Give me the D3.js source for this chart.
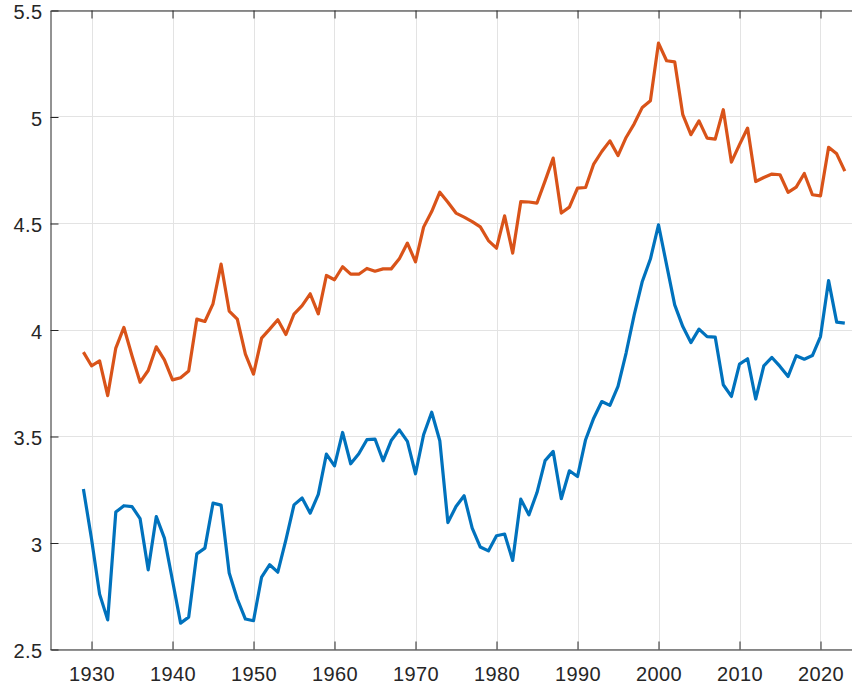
<!DOCTYPE html>
<html>
<head>
<meta charset="utf-8">
<script src="https://cdn.jsdelivr.net/npm/d3@7"></script>
<style>
  html, body { margin: 0; padding: 0; background: #fff; }
  svg { display: block; }
  .tick text { font-family: "Liberation Sans", Arial, Helvetica, sans-serif; font-size: 20px; fill: #262626; }
</style>
</head>
<body>
<svg id="chart" width="852" height="684"></svg>
<script>
// ---- data ----
const years = d3.range(1929, 2024);
const seriesTop = [
  3.896, 3.832, 3.855, 3.692, 3.915, 4.012, 3.879, 3.755, 3.810, 3.921,
  3.860, 3.766, 3.776, 3.807, 4.051, 4.040, 4.123, 4.309, 4.089, 4.051,
  3.887, 3.793, 3.962, 4.004, 4.048, 3.979, 4.075, 4.114, 4.170, 4.076,
  4.256, 4.236, 4.297, 4.262, 4.262, 4.289, 4.276, 4.287, 4.287, 4.334,
  4.408, 4.320, 4.483, 4.556, 4.647, 4.600, 4.549, 4.530, 4.509, 4.484,
  4.420, 4.384, 4.536, 4.361, 4.603, 4.601, 4.596, 4.700, 4.807, 4.549,
  4.577, 4.666, 4.669, 4.779, 4.838, 4.888, 4.819, 4.904, 4.968, 5.045,
  5.076, 5.347, 5.264, 5.259, 5.011, 4.917, 4.982, 4.901, 4.896, 5.034,
  4.788, 4.870, 4.948, 4.697, 4.716, 4.732, 4.729, 4.646, 4.671, 4.735,
  4.635, 4.630, 4.858, 4.827, 4.746
];
const seriesBottom = [
  3.254, 3.020, 2.760, 2.639, 3.145, 3.175, 3.171, 3.114, 2.874, 3.124,
  3.023, 2.824, 2.624, 2.652, 2.949, 2.976, 3.187, 3.178, 2.859, 2.737,
  2.643, 2.635, 2.840, 2.898, 2.863, 3.015, 3.179, 3.211, 3.140, 3.228,
  3.417, 3.362, 3.519, 3.372, 3.419, 3.485, 3.488, 3.386, 3.481, 3.531,
  3.477, 3.325, 3.508, 3.614, 3.480, 3.096, 3.171, 3.222, 3.070, 2.981,
  2.963, 3.034, 3.042, 2.918, 3.206, 3.132, 3.237, 3.387, 3.430, 3.208,
  3.339, 3.312, 3.485, 3.586, 3.664, 3.646, 3.735, 3.892, 4.071, 4.228,
  4.333, 4.494, 4.306, 4.118, 4.016, 3.941, 4.004, 3.969, 3.967, 3.743,
  3.688, 3.840, 3.865, 3.676, 3.832, 3.871, 3.829, 3.782, 3.879, 3.863,
  3.880, 3.969, 4.232, 4.037, 4.032
];
const xTicks = [1930, 1940, 1950, 1960, 1970, 1980, 1990, 2000, 2010, 2020];
const yTicks = [2.5, 3, 3.5, 4, 4.5, 5, 5.5];
const yTickLabels = ["2.5", "3", "3.5", "4", "4.5", "5", "5.5"];

// ---- layout ----
const svg = d3.select("#chart");
const pLeft = 51, pRight = 861, pTop = 10.5, pBottom = 649.5;

const x = d3.scaleLinear().domain([1925, 2025]).range([pLeft, pRight]);
const y = d3.scaleLinear().domain([2.5, 5.5]).range([pBottom, pTop]);

// grid
const grid = svg.append("g").attr("stroke", "#e3e3e3").attr("stroke-width", 1);
grid.selectAll(".vg").data(xTicks).join("line")
  .attr("x1", d => Math.round(x(d)) + 0.5).attr("x2", d => Math.round(x(d)) + 0.5)
  .attr("y1", pTop).attr("y2", pBottom);
grid.selectAll(".hg").data(yTicks).join("line")
  .attr("y1", d => Math.round(y(d) - 0.5) + 0.5).attr("y2", d => Math.round(y(d) - 0.5) + 0.5)
  .attr("x1", pLeft).attr("x2", pRight);

// lines
const line = d3.line().x((d, i) => x(years[i])).y(d => y(d));
svg.append("path").datum(seriesBottom)
  .attr("fill", "none").attr("stroke", "#0072BD").attr("stroke-width", 3.2)
  .attr("stroke-linejoin", "round").attr("d", line);
svg.append("path").datum(seriesTop)
  .attr("fill", "none").attr("stroke", "#D95319").attr("stroke-width", 3.2)
  .attr("stroke-linejoin", "round").attr("d", line);

// axes
function styleAxis(g) {
  g.selectAll(".domain").attr("stroke", "#262626").attr("stroke-width", 1);
  g.selectAll(".tick line").attr("stroke", "#262626").attr("stroke-width", 1);
}
svg.append("g").attr("transform", `translate(0,${pBottom})`)
  .call(d3.axisBottom(x).tickValues(xTicks).tickFormat(d3.format("d"))
    .tickSizeInner(-8).tickSizeOuter(0).tickPadding(17))
  .call(styleAxis)
  .call(g => g.selectAll(".tick text").attr("letter-spacing", "0.4px"));
svg.append("g").attr("transform", `translate(0,${pTop})`)
  .call(d3.axisTop(x).tickValues(xTicks).tickFormat("")
    .tickSizeInner(-8).tickSizeOuter(0))
  .call(styleAxis);
svg.append("g").attr("transform", `translate(${pLeft - 0.5},0)`)
  .call(d3.axisLeft(y).tickValues(yTicks).tickFormat((d, i) => yTickLabels[i])
    .tickSizeInner(-8).tickSizeOuter(0).tickPadding(8))
  .call(styleAxis)
  .call(g => g.selectAll(".tick text").attr("letter-spacing", "0.4px").attr("dy", "0.4em"));
svg.append("g").attr("transform", `translate(${pRight},0)`)
  .call(d3.axisRight(y).tickValues(yTicks).tickFormat("")
    .tickSizeInner(-8).tickSizeOuter(0))
  .call(styleAxis);
</script>
</body>
</html>
